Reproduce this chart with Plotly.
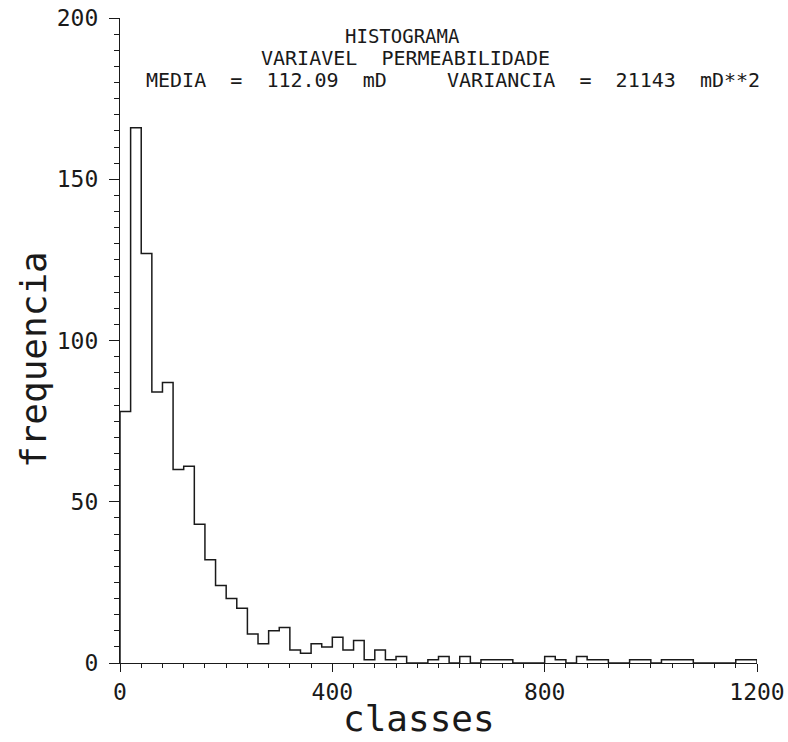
import numpy as np
import plotly.graph_objects as go

# ---- data ----
bin_width = 20  # class width (mD)
counts = [78, 166, 127, 84, 87, 60, 61, 43, 32, 24,
          20, 17, 9, 6, 10, 11, 4, 3, 6, 5,
          8, 4, 7, 1, 4, 1, 2, 0, 0, 1,
          2, 0, 2, 0, 1, 1, 1, 0, 0, 0,
          2, 1, 0, 2, 1, 1, 0, 0, 1, 1,
          0, 1, 1, 1, 0, 0, 0, 0, 1, 1]
title_lines = ["HISTOGRAMA",
               "VARIAVEL  PERMEABILIDADE",
               "MEDIA  =  112.09  mD     VARIANCIA  =  21143  mD**2"]
x_title = "classes"
y_title = "frequencia"
x_ticks = [0, 400, 800, 1200]
y_ticks = [0, 50, 100, 150, 200]

# step outline of the histogram
edges = np.arange(len(counts) + 1) * bin_width
xs = np.concatenate([[edges[0]], edges])
ys = np.concatenate([[0], counts, [0]])

FONT = "DejaVu Sans Mono"
INK = "#1a1a1a"

fig = go.Figure()
fig.add_trace(go.Scatter(x=xs, y=ys, mode="lines", line_shape="hv",
                         line=dict(color=INK, width=1.5), hoverinfo="skip",
                         showlegend=False))

L, R, T, B = 120, 31, 18, 79
W, H = 788, 742
pw, ph = W - L - R, H - T - B

def px_to_paper(px, py):
    return (px - L) / pw, (H - B - py) / ph

fig.update_layout(
    width=W, height=H,
    margin=dict(l=L, r=R, t=T, b=B, autoexpand=False),
    plot_bgcolor="white", paper_bgcolor="white",
    font=dict(family=FONT, color=INK),
    xaxis=dict(range=[0, 1200], tickvals=x_ticks, showgrid=False, zeroline=False,
               automargin=False,
               showline=True, linecolor=INK, linewidth=1.3,
               ticks="outside", ticklen=8, tickwidth=1.2, tickcolor=INK,
               tickfont=dict(size=23, family=FONT, color=INK),
               minor=dict(dtick=40, tick0=0, ticks="outside", ticklen=4,
                          tickwidth=1, tickcolor=INK, showgrid=False)),
    yaxis=dict(range=[0, 200], tickvals=y_ticks, showgrid=False, zeroline=False,
               automargin=False, ticklabelstandoff=6,
               showline=True, linecolor=INK, linewidth=1.3,
               ticks="outside", ticklen=10, tickwidth=1.2, tickcolor=INK,
               tickfont=dict(size=23, family=FONT, color=INK),
               minor=dict(dtick=5, tick0=0, ticks="outside", ticklen=5,
                          tickwidth=1, tickcolor=INK, showgrid=False)),
)

# title lines
for text, (cx, cy), fs in zip(title_lines, [(402, 36), (405, 58), (453, 80)],
                              [19, 20, 20]):
    ax, ay = px_to_paper(cx, cy)
    fig.add_annotation(text=text, x=ax, y=ay, xref="paper", yref="paper",
                       xanchor="center", yanchor="middle", showarrow=False,
                       font=dict(size=fs, family=FONT, color=INK))

# axis titles
ax, ay = px_to_paper(419, 719)
fig.add_annotation(text=x_title, x=ax, y=ay, xref="paper", yref="paper",
                   xanchor="center", yanchor="middle", showarrow=False,
                   font=dict(size=36, family=FONT, color=INK))
ax, ay = px_to_paper(33, 360)
fig.add_annotation(text=y_title, x=ax, y=ay, xref="paper", yref="paper",
                   xanchor="center", yanchor="middle", showarrow=False,
                   textangle=-90,
                   font=dict(size=36, family=FONT, color=INK))

fig.write_html("out.html")
